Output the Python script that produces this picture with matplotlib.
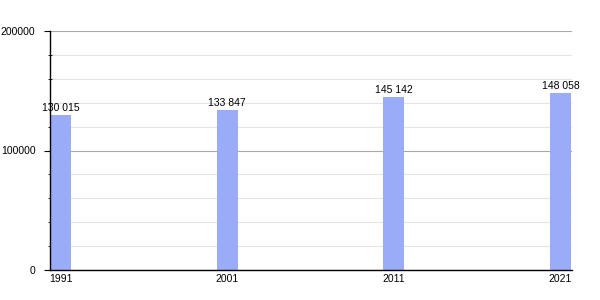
import matplotlib
matplotlib.use("Agg")
import matplotlib.pyplot as plt
from matplotlib.ticker import MultipleLocator

plt.rcParams['font.family'] = ['Liberation Sans', 'DejaVu Sans']

# data
years  = [1991, 2001, 2011, 2021]
values = [130015, 133847, 145142, 148058]
labels = ["130 015", "133 847", "145 142", "148 058"]

fig = plt.figure(figsize=(6, 3), dpi=100)
ax = fig.add_axes([50 / 600, 30 / 300, 522 / 600, 239 / 300])

ax.bar(years, values, width=1.26, color='#9aabf7', zorder=3)
for x, v, t in zip(years, values, labels):
    ax.text(x, v + 1500, t, ha='center', va='bottom', fontsize=7.5, zorder=4)

ax.set_xlim(1990.37, 2021.69)
ax.set_ylim(0, 200000)
ax.yaxis.set_major_locator(MultipleLocator(100000))
ax.yaxis.set_minor_locator(MultipleLocator(20000))
ax.grid(True, which='minor', axis='y', color='#e4e4e4', lw=0.8, zorder=0)
ax.grid(True, which='major', axis='y', color='#a8a8a8', lw=0.8, zorder=1)

ax.set_xticks(years)
ax.set_xticklabels([str(y) for y in years])
ax.tick_params(axis='x', length=0, labelsize=7.5, pad=3)
ax.tick_params(axis='y', which='major', length=4, labelsize=7.5, pad=6.5)
ax.tick_params(axis='y', which='minor', length=3, direction='inout')

ax.spines['top'].set_visible(False)
ax.spines['right'].set_visible(False)
ax.spines['left'].set_linewidth(1.0)
ax.spines['bottom'].set_linewidth(1.0)
ax.spines['left'].set_zorder(5)
ax.spines['bottom'].set_zorder(5)

fig.savefig("out.png", dpi=100)
